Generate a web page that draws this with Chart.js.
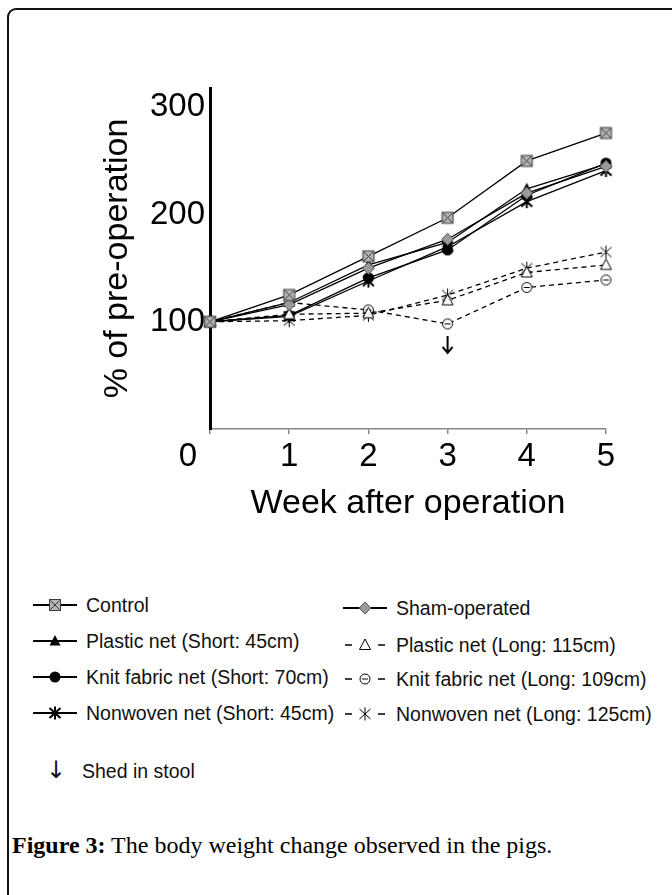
<!DOCTYPE html>
<html>
<head>
<meta charset="utf-8">
<script src="https://cdn.jsdelivr.net/npm/chart.js@4.4.1/dist/chart.umd.min.js"></script>
<style>
  body { margin: 0; background: #fff; width: 672px; height: 895px; position: relative; overflow: hidden;
         font-family: "Liberation Sans", Arial, sans-serif; color: #111; }
  #frame { position: absolute; left: 7px; top: 8px; width: 720px; height: 940px;
           border-left: 2px solid #111; border-top: 2px solid #111; border-top-left-radius: 9px; }
  #chart { position: absolute; left: 0; top: 0; }
  .leg { position: absolute; height: 22px; font-size: 19.5px; line-height: 22px; white-space: nowrap; }
  .leg canvas { position: absolute; left: 0; top: 0; }
  .leg span { position: absolute; left: 55px; top: 0; }
  #shed { position: absolute; left: 46px; top: 756px; font-size: 19.5px; line-height: 28px; white-space: nowrap; }
  #shed b { display: inline-block; width: 36px; font-weight: normal; font-family: "DejaVu Sans", sans-serif; font-size: 24px; }
  #caption { position: absolute; left: 12px; top: 830px; font-family: "Liberation Serif", serif;
             font-size: 24px; line-height: 30px; white-space: nowrap; color: #000; }
</style>
</head>
<body>
<div id="frame"></div>
<canvas id="chart" width="672" height="560"></canvas>
<div id="legend"></div>
<div id="shed"><b>↓</b>Shed in stool</div>
<div id="caption"><strong>Figure 3:</strong> The body weight change observed in the pigs.</div>
<script>
'use strict';

const weeks = [0, 1, 2, 3, 4, 5];
const xTickLabels = ['0', '1', '2', '3', '4', '5'];
const yTicks = [100, 200, 300];
const shedWeek = 3;

const control       = [100, 125, 161, 197, 250, 276];
const sham          = [100, 116, 150, 177, 220, 245];
const plasticShort  = [100, 118, 153, 174, 224, 247];
const knitShort     = [100, 106, 141, 167, 218, 248];
const nonwovenShort = [100, 105, 138, 170, 212, 241];
const plasticLong   = [100, 107, 108, 120, 146, 153];
const knitLong      = [100, 118, 111, 98, 132, 139];
const nonwovenLong  = [100, 101, 106, 125, 150, 165];

const FONT = '"Liberation Sans", Arial, sans-serif';

function drawMarker(g, kind, cx, cy) {
  g.save();
  g.strokeStyle = '#000';
  g.fillStyle = '#000';
  g.lineWidth = 1;
  if (kind === 'boxX') {
    g.fillStyle = '#b4b4b4';
    g.fillRect(cx - 5.5, cy - 5.5, 11, 11);
    g.strokeStyle = '#3a3a3a';
    g.strokeRect(cx - 5.5, cy - 5.5, 11, 11);
    g.beginPath();
    g.moveTo(cx - 4.5, cy - 4.5); g.lineTo(cx + 4.5, cy + 4.5);
    g.moveTo(cx + 4.5, cy - 4.5); g.lineTo(cx - 4.5, cy + 4.5);
    g.stroke();
  } else if (kind === 'diamond') {
    g.fillStyle = '#9a9a9a';
    g.strokeStyle = '#555';
    g.beginPath();
    g.moveTo(cx, cy - 6); g.lineTo(cx + 6, cy); g.lineTo(cx, cy + 6); g.lineTo(cx - 6, cy);
    g.closePath(); g.fill(); g.stroke();
  } else if (kind === 'triFill' || kind === 'triOpen') {
    g.beginPath();
    g.moveTo(cx, cy - 6); g.lineTo(cx + 5.5, cy + 4.5); g.lineTo(cx - 5.5, cy + 4.5);
    g.closePath();
    if (kind === 'triFill') g.fill(); else { g.fillStyle = '#fff'; g.fill(); g.stroke(); }
  } else if (kind === 'circFill') {
    g.beginPath(); g.arc(cx, cy, 5.5, 0, Math.PI * 2); g.fill();
  } else if (kind === 'circBar') {
    g.fillStyle = '#fff';
    g.beginPath(); g.arc(cx, cy, 5, 0, Math.PI * 2); g.fill(); g.stroke();
    g.beginPath(); g.moveTo(cx - 3, cy); g.lineTo(cx + 3, cy); g.stroke();
  } else if (kind === 'star' || kind === 'starThin') {
    g.lineWidth = kind === 'star' ? 2 : 1;
    g.beginPath();
    g.moveTo(cx, cy - 6.5); g.lineTo(cx, cy + 6.5);
    g.moveTo(cx - 5.5, cy - 5); g.lineTo(cx + 5.5, cy + 5);
    g.moveTo(cx + 5.5, cy - 5); g.lineTo(cx - 5.5, cy + 5);
    g.stroke();
  }
  g.restore();
}

function markerCanvas(kind) {
  const c = document.createElement('canvas');
  c.width = 15; c.height = 15;
  drawMarker(c.getContext('2d'), kind, 7.5, 7.5);
  return c;
}

const series = [
  { name: 'Control', data: control, marker: 'boxX', dashed: false, col: 0, row: 0 },
  { name: 'Sham-operated', data: sham, marker: 'diamond', dashed: false, col: 1, row: 0 },
  { name: 'Plastic net (Short: 45cm)', data: plasticShort, marker: 'triFill', dashed: false, col: 0, row: 1 },
  { name: 'Plastic net (Long: 115cm)', data: plasticLong, marker: 'triOpen', dashed: true, col: 1, row: 1 },
  { name: 'Knit fabric net (Short: 70cm)', data: knitShort, marker: 'circFill', dashed: false, col: 0, row: 2 },
  { name: 'Knit fabric net (Long: 109cm)', data: knitLong, marker: 'circBar', dashed: true, col: 1, row: 2 },
  { name: 'Nonwoven net (Short: 45cm)', data: nonwovenShort, marker: 'star', dashed: false, col: 0, row: 3 },
  { name: 'Nonwoven net (Long: 125cm)', data: nonwovenLong, marker: 'starThin', dashed: true, col: 1, row: 3 }
];

// legend, two columns like the original figure
const legendEl = document.getElementById('legend');
const colLeft = [31, 341];
const rowTop = [[594, 630, 666, 702], [597, 634, 668, 703]];
series.forEach(s => {
  const item = document.createElement('div');
  item.className = 'leg';
  item.style.left = colLeft[s.col] + 'px';
  item.style.top = rowTop[s.col][s.row] + 'px';
  const c = document.createElement('canvas');
  c.width = 50; c.height = 22;
  const g = c.getContext('2d');
  g.strokeStyle = '#000';
  g.lineWidth = 2;
  g.beginPath();
  if (s.dashed) {
    g.lineWidth = 1.3;
    g.moveTo(4, 11); g.lineTo(11, 11);
    g.moveTo(37, 11); g.lineTo(44, 11);
  } else {
    g.moveTo(2, 11); g.lineTo(46, 11);
  }
  g.stroke();
  drawMarker(g, s.marker, 24, 11);
  item.appendChild(c);
  const t = document.createElement('span');
  t.textContent = s.name;
  item.appendChild(t);
  legendEl.appendChild(item);
});

const extras = {
  id: 'extras',
  afterDraw(chart) {
    const { ctx } = chart;
    const x = chart.scales.x, y = chart.scales.y;
    ctx.save();
    // the "0" label sits left of the axis in the original
    ctx.font = '33px ' + FONT;
    ctx.fillStyle = '#000';
    ctx.textAlign = 'center';
    ctx.textBaseline = 'middle';
    ctx.fillText(xTickLabels[0], x.getPixelForValue(weeks[0]) - 22, y.bottom + 8 + 19.8);
    // shed-in-stool arrow under the knit long point
    const ax = x.getPixelForValue(shedWeek);
    const py = y.getPixelForValue(knitLong[weeks.indexOf(shedWeek)]);
    ctx.strokeStyle = '#000';
    ctx.lineWidth = 2;
    ctx.beginPath();
    ctx.moveTo(ax, py + 12); ctx.lineTo(ax, py + 29);
    ctx.moveTo(ax - 5, py + 23); ctx.lineTo(ax, py + 29); ctx.lineTo(ax + 5, py + 23);
    ctx.stroke();
    ctx.restore();
  }
};

new Chart(document.getElementById('chart'), {
  type: 'line',
  data: {
    datasets: series.map(s => ({
      label: s.name,
      data: weeks.map((w, i) => ({ x: w, y: s.data[i] })),
      borderColor: '#000',
      borderWidth: 1.3,
      borderDash: s.dashed ? [5, 4] : [],
      pointStyle: markerCanvas(s.marker),
      pointRadius: 6,
      tension: 0,
      fill: false,
      clip: false
    }))
  },
  options: {
    responsive: false,
    animation: false,
    layout: { padding: { left: 97, top: 88, right: 66, bottom: 36 } },
    plugins: { legend: { display: false }, tooltip: { enabled: false } },
    scales: {
      x: {
        type: 'linear',
        min: 0,
        max: 5,
        afterFit: s => { s.height = 95; },
        ticks: {
          stepSize: 1,
          color: '#000',
          padding: 3,
          font: { size: 33, family: FONT },
          callback: v => (v === 0 ? '' : xTickLabels[v])
        },
        grid: { display: true, drawOnChartArea: false, drawTicks: true, tickLength: 5, color: '#888', lineWidth: 1.5 },
        border: { color: '#888', width: 1.5 },
        title: { display: true, text: 'Week after operation', color: '#000', padding: 0, font: { size: 34, family: FONT } }
      },
      y: {
        min: 0,
        max: 318,
        afterFit: s => { s.width = 113; },
        afterBuildTicks: s => { s.ticks = yTicks.map(v => ({ value: v })); },
        ticks: { color: '#000', padding: 5, font: { size: 33, family: FONT } },
        grid: { display: false, drawTicks: false },
        border: { color: '#000', width: 3 },
        title: { display: true, text: '% of pre-operation', color: '#000', padding: 0, font: { size: 34, family: FONT } }
      }
    }
  },
  plugins: [extras]
});
</script>
</body>
</html>
